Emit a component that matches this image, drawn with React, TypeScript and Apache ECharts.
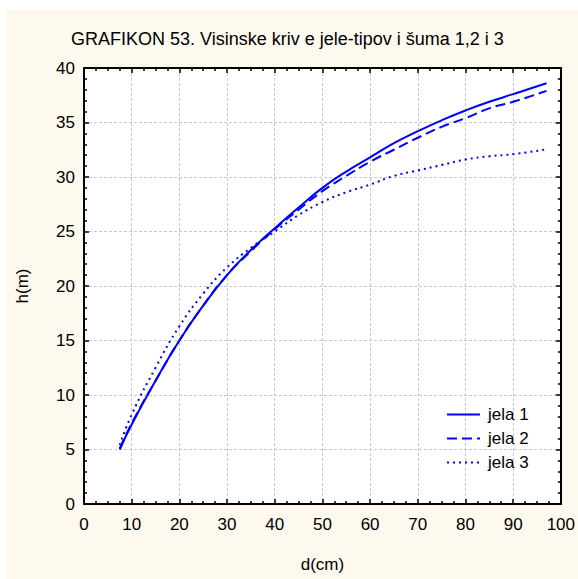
import React, { useEffect, useRef } from "react";
import * as echarts from "echarts";

const titleText = "GRAFIKON 53. Visinske kriv e jele-tipov i šuma 1,2 i 3";
const seriesNames = ["jela 1", "jela 2", "jela 3"];

const jela1: [number, number][] = [
  [7.5, 5.0], [10, 7.3], [15, 11.3], [20, 15.0], [25, 18.2], [30, 21.0], [35, 23.3],
  [40, 25.3], [45, 27.2], [50, 29.0], [55, 30.5], [60, 31.8], [65, 33.1], [70, 34.2],
  [75, 35.2], [80, 36.1], [85, 36.9], [90, 37.6], [97, 38.6],
];
const jela2: [number, number][] = [
  [7.5, 5.1], [10, 7.4], [15, 11.3], [20, 15.0], [25, 18.2], [30, 21.0], [35, 23.2],
  [40, 25.2], [45, 27.0], [50, 28.7], [55, 30.1], [60, 31.4], [65, 32.5], [70, 33.6],
  [75, 34.6], [80, 35.4], [85, 36.3], [90, 36.9], [97, 37.9],
];
const jela3: [number, number][] = [
  [7.5, 5.4], [10, 8.2], [15, 12.5], [20, 16.3], [25, 19.3], [30, 21.7], [35, 23.5],
  [40, 25.0], [45, 26.5], [50, 27.7], [55, 28.6], [60, 29.3], [65, 30.1], [70, 30.6],
  [75, 31.1], [80, 31.6], [85, 31.9], [90, 32.1], [96.5, 32.5],
];

const FONT = "Liberation Sans, Arial, sans-serif";

export default function App() {
  const ref = useRef<HTMLDivElement>(null);
  useEffect(() => {
    if (!ref.current) return;
    const chart = echarts.init(ref.current, undefined, { renderer: "svg" });
    const blue = "#0000ff";
    const baseAxis = {
      axisLine: { show: true, onZero: false, lineStyle: { color: "#000", width: 2 } },
      axisTick: { show: true, inside: true, length: 5, lineStyle: { color: "#000", width: 1.5 } },
      minorTick: { show: true, length: 3, lineStyle: { color: "#000", width: 1.5 } },
    };
    chart.setOption({
      animation: false,
      backgroundColor: "transparent",
      title: {
        text: titleText,
        left: 60,
        top: 15,
        textStyle: { fontFamily: FONT, fontSize: 18, fontWeight: "normal", color: "#000" },
      },
      grid: { left: 77, top: 58, right: 14, bottom: 75, show: true, backgroundColor: "#fff", borderWidth: 0 },
      legend: {
        orient: "vertical",
        left: 435,
        top: 391,
        itemWidth: 33,
        itemHeight: 14,
        itemGap: 7,
        data: seriesNames,
        itemStyle: { opacity: 0 },
        textStyle: { fontFamily: FONT, fontSize: 17, color: "#000", padding: [0, 0, 0, 3] },
      },
      xAxis: [
        {
          type: "value", min: 0, max: 100, interval: 10, position: "bottom",
          name: "d(cm)", nameLocation: "middle", nameGap: 52,
          nameTextStyle: { fontFamily: FONT, fontSize: 17, color: "#000" },
          axisLabel: { fontFamily: FONT, fontSize: 17, color: "#000", margin: 12 },
          splitLine: { show: true, lineStyle: { color: "#c8c8c8", type: [3, 2], width: 1 } },
          ...baseAxis,
          minorTick: { ...baseAxis.minorTick, splitNumber: 4 },
        },
        {
          type: "value", min: 0, max: 100, interval: 10, position: "top",
          axisLabel: { show: false }, splitLine: { show: false },
          ...baseAxis,
          minorTick: { ...baseAxis.minorTick, splitNumber: 4 },
        },
      ],
      yAxis: [
        {
          type: "value", min: 0, max: 40, interval: 5, position: "left",
          name: "h(m)", nameLocation: "middle", nameGap: 53, nameRotate: 90,
          nameTextStyle: { fontFamily: FONT, fontSize: 17, color: "#000" },
          axisLabel: { fontFamily: FONT, fontSize: 17, color: "#000", margin: 9 },
          splitLine: { show: true, lineStyle: { color: "#c8c8c8", type: [3, 2], width: 1 } },
          ...baseAxis,
          minorTick: { ...baseAxis.minorTick, splitNumber: 5 },
        },
        {
          type: "value", min: 0, max: 40, interval: 5, position: "right",
          axisLabel: { show: false }, splitLine: { show: false },
          ...baseAxis,
          minorTick: { ...baseAxis.minorTick, splitNumber: 5 },
        },
      ],
      series: [
        {
          name: seriesNames[0], type: "line", data: jela1, smooth: true, symbol: "none",
          lineStyle: { color: blue, width: 2, type: "solid" }, itemStyle: { color: blue },
        },
        {
          name: seriesNames[1], type: "line", data: jela2, smooth: true, symbol: "none",
          lineStyle: { color: blue, width: 2, type: [10, 5] }, itemStyle: { color: blue },
        },
        {
          name: seriesNames[2], type: "line", data: jela3, smooth: true, symbol: "none",
          lineStyle: { color: blue, width: 2, type: [2, 4] }, itemStyle: { color: blue },
        },
      ],
    });
    return () => chart.dispose();
  }, []);
  return (
    <div
      ref={ref}
      style={{ position: "fixed", left: 6, top: 10, width: 572, height: 569, background: "#fdf9ee" }}
    />
  );
}
